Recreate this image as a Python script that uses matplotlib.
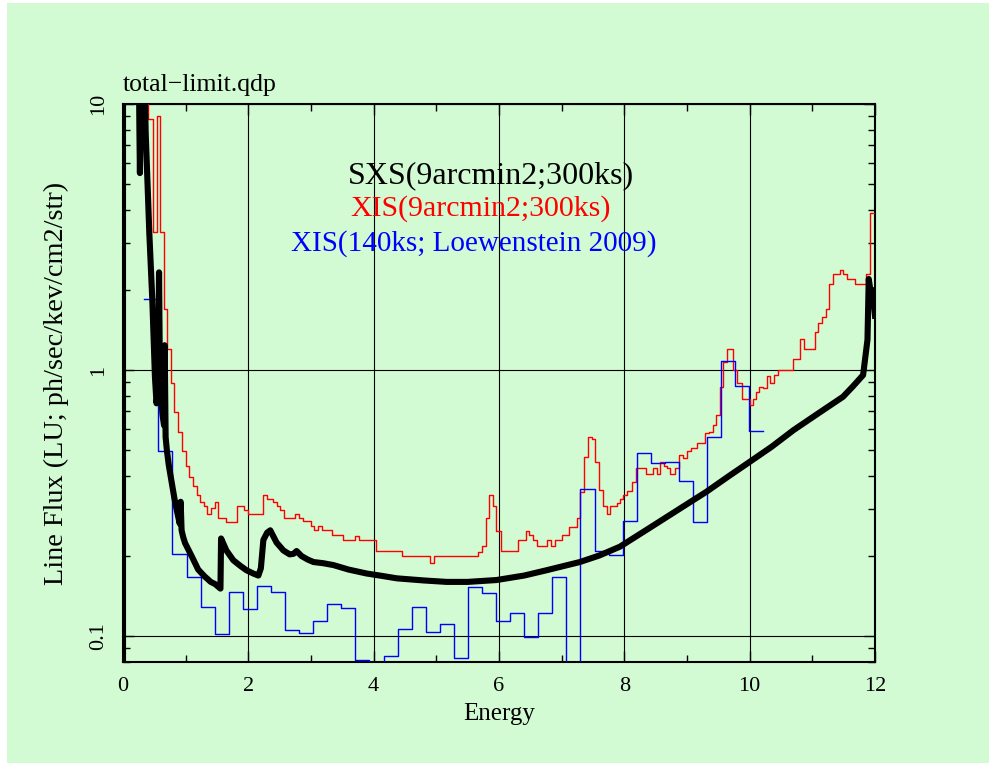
import numpy as np
import matplotlib
matplotlib.use("Agg")
import matplotlib.pyplot as plt
from matplotlib.patches import Rectangle
from matplotlib.ticker import FixedLocator, NullFormatter, LogLocator

plt.rcParams['font.family'] = ['Liberation Serif', 'DejaVu Serif']

# === Data ===
# SXS sensitivity curve (9 arcmin2, 300 ks)
sxs_energy = [0.0, 0.0, 0.24, 0.262, 0.27, 0.278, 0.30, 0.345, 0.362, 0.42, 0.468,
              0.51, 0.535, 0.56, 0.575, 0.59, 0.63, 0.655, 0.665, 0.68, 0.70,
              0.73, 0.78, 0.82, 0.857, 0.905, 0.92, 0.935, 0.96, 0.99, 1.1,
              1.2, 1.3, 1.4, 1.47, 1.555, 1.565, 1.65, 1.76, 1.87, 1.97,
              2.08, 2.16, 2.2, 2.24, 2.3, 2.35, 2.45, 2.56, 2.66, 2.72,
              2.77, 2.85, 2.95, 3.04, 3.2, 3.36, 3.6, 3.89, 4.1, 4.37,
              4.8, 5.165, 5.5, 5.96, 6.4, 6.76, 7.29, 7.6, 7.93, 8.4,
              8.89, 9.31, 9.65, 10.0, 10.35, 10.70, 11.1, 11.49, 11.65, 11.81,
              11.88, 11.90, 11.94, 11.96, 12.0]
sxs_flux = [0.01, 100, 30, 8.0, 5.5, 8.0, 30, 12, 7.8, 3.27, 1.83,
            0.94, 0.75, 0.85, 2.33, 0.9, 0.68, 0.62, 1.24, 0.56, 0.50,
            0.44, 0.375, 0.33, 0.298, 0.265, 0.32, 0.25, 0.236, 0.224, 0.199,
            0.178, 0.168, 0.160, 0.157, 0.151, 0.233, 0.21, 0.193, 0.184, 0.177,
            0.172, 0.169, 0.18, 0.23, 0.245, 0.25, 0.225, 0.21, 0.203, 0.204,
            0.209, 0.200, 0.194, 0.190, 0.188, 0.185, 0.178, 0.172, 0.169, 0.165,
            0.162, 0.160, 0.160, 0.1626, 0.169, 0.177, 0.190, 0.201, 0.217, 0.255,
            0.302, 0.349, 0.397, 0.452, 0.515, 0.595, 0.689, 0.794, 0.87, 0.958,
            1.3, 2.2, 1.9, 2.0, 1.6]

# XIS (9 arcmin2, 300 ks) histogram: bin edges and values
xis_edges = [0.287, 0.404, 0.483, 0.538, 0.590, 0.654, 0.707, 0.766, 0.819, 0.882,
             0.937, 1.005, 1.056, 1.112, 1.176, 1.229, 1.292, 1.345, 1.404, 1.463,
             1.521, 1.644, 1.814, 1.931, 1.999, 2.229, 2.293, 2.389, 2.453, 2.505,
             2.574, 2.745, 2.808, 2.867, 2.995, 3.052, 3.107, 3.171, 3.330, 3.506,
             3.702, 3.770, 4.037, 4.447, 4.899, 4.967, 5.669, 5.724, 5.792, 5.845,
             5.899, 5.952, 6.027, 6.308, 6.426, 6.483, 6.547, 6.601, 6.770, 6.825,
             6.893, 7.010, 7.121, 7.240, 7.292, 7.356, 7.425, 7.479, 7.531, 7.600,
             7.654, 7.718, 7.771, 7.878, 7.930, 7.983, 8.047, 8.117, 8.194, 8.345,
             8.462, 8.516, 8.569, 8.632, 8.685, 8.728, 8.808, 8.877, 8.940, 8.995,
             9.059, 9.164, 9.287, 9.355, 9.410, 9.462, 9.526, 9.579, 9.633, 9.738,
             9.793, 9.872, 10.005, 10.048, 10.101, 10.153, 10.217, 10.271, 10.324, 10.388,
             10.456, 10.686, 10.803, 10.866, 11.042, 11.095, 11.158, 11.213, 11.270, 11.334,
             11.441, 11.494, 11.557, 11.680, 11.856, 11.920, 11.983]
xis_flux = [20, 8.78, 3.30, 9.01, 3.30, 1.70, 1.20, 0.894, 0.695, 0.585,
            0.496, 0.438, 0.398, 0.366, 0.339, 0.320, 0.308, 0.289, 0.302, 0.320,
            0.279, 0.269, 0.308, 0.298, 0.289, 0.339, 0.329, 0.320, 0.308, 0.299,
            0.279, 0.289, 0.279, 0.271, 0.259, 0.250, 0.259, 0.250, 0.240, 0.230,
            0.238, 0.230, 0.209, 0.200, 0.189, 0.200, 0.2075, 0.2185, 0.279, 0.339,
            0.308, 0.249, 0.209, 0.230, 0.249, 0.240, 0.230, 0.2185, 0.230, 0.2185,
            0.230, 0.240, 0.258, 0.279, 0.349, 0.470, 0.559, 0.549, 0.452, 0.354,
            0.308, 0.289, 0.308, 0.317, 0.327, 0.339, 0.352, 0.380, 0.427, 0.406,
            0.427, 0.406, 0.452, 0.437, 0.427, 0.406, 0.427, 0.479, 0.468, 0.497,
            0.508, 0.530, 0.578, 0.586, 0.621, 0.677, 0.865, 1.075, 1.196, 1.0,
            0.891, 0.776, 0.739, 0.776, 0.829, 0.865, 0.853, 0.949, 0.896, 0.958,
            1.0, 1.097, 1.304, 1.196, 1.393, 1.498, 1.586, 1.691, 2.100, 2.296,
            2.376, 2.296, 2.193, 2.100, 2.296, 3.882]

# XIS 140 ks (Loewenstein 2009) histogram
lw09_edges = [0.340, 0.565, 0.789, 1.014, 1.238, 1.463, 1.687, 1.912, 2.136, 2.361,
              2.585, 2.810, 3.034, 3.259, 3.483, 3.708, 3.932, 4.157, 4.381, 4.606,
              4.830, 5.055, 5.279, 5.504, 5.728, 5.953, 6.177, 6.402, 6.626, 6.851,
              7.075, 7.300, 7.524, 7.749, 7.973, 8.198, 8.422, 8.647, 8.871, 9.096,
              9.320, 9.545, 9.769, 9.994, 10.218]
lw09_flux = [1.845, 0.497, 0.204, 0.167, 0.129, 0.1015, 0.1467, 0.1263, 0.154, 0.146,
             0.1053, 0.1029, 0.1141, 0.1327, 0.1282, 0.0817, 0.05, 0.0841, 0.1069, 0.129,
             0.1038, 0.1116, 0.0825, 0.1532, 0.1454, 0.1141, 0.1224, 0.0989, 0.1224, 0.167,
             0.05, 0.356, 0.2093, 0.2016, 0.2713, 0.486, 0.446, 0.452, 0.3826, 0.269,
             0.561, 1.081, 0.870, 0.590]

labels = ["SXS(9arcmin2;300ks)", "XIS(9arcmin2;300ks)", "XIS(140ks; Loewenstein 2009)"]
label_colors = ["black", "#ff0000", "#0000ff"]
label_x = [5.87, 5.71, 5.60]
label_y = [5.36, 4.06, 3.0]
label_size = [23, 21.5, 21]

# === Plotting ===
W, H = 989, 763
fig = plt.figure(figsize=(W / 100, H / 100), dpi=100)
fig.patch.set_facecolor('white')
bg = '#d3fbd3'
fig.add_artist(Rectangle((7 / W, 0), 1 - 7 / W, 1 - 3 / H, transform=fig.transFigure,
                         facecolor=bg, edgecolor='none', zorder=-10))

ax = fig.add_axes([123 / W, 1 - 662 / H, 752 / W, 558 / H])
ax.set_facecolor(bg)

ax.plot(xis_edges, np.append(xis_flux, xis_flux[-1]),
        drawstyle='steps-post', color='#ff0000', lw=1.0, zorder=3)
ax.plot(lw09_edges, np.append(lw09_flux, lw09_flux[-1]),
        drawstyle='steps-post', color='#0000ff', lw=1.0, zorder=3)
ax.plot(sxs_energy, sxs_flux, color='black', lw=4.4, solid_joinstyle='round', zorder=4)

ax.set_yscale('log')
ax.set_xlim(0, 12)
ax.set_ylim(0.08, 10)

ax.xaxis.set_major_locator(FixedLocator([0, 2, 4, 6, 8, 10, 12]))
ax.xaxis.set_minor_locator(FixedLocator([1, 3, 5, 7, 9, 11]))
ax.yaxis.set_major_locator(FixedLocator([0.1, 1, 10]))
ax.yaxis.set_minor_locator(LogLocator(base=10, subs=np.arange(2, 10)))
ax.yaxis.set_minor_formatter(NullFormatter())
ax.set_yticklabels(['0.1', '1', '10'], rotation=90, va='center')

ax.tick_params(which='both', direction='in', top=True, right=True, colors='black',
               labelsize=16, pad=11)
ax.tick_params(which='major', length=8, width=1.0)
ax.tick_params(which='minor', length=5, width=1.0)

ax.grid(True, which='major', color='black', lw=0.8)
ax.set_axisbelow(True)
for s in ax.spines.values():
    s.set_linewidth(1.5)

ax.set_xlabel("Energy", fontsize=18, va='center')
ax.xaxis.set_label_coords(0.5, -(714 - 662) / 558)
ax.set_ylabel("Line Flux (LU; ph/sec/kev/cm2/str)", fontsize=20.3, va='center')
ax.yaxis.set_label_coords(-(123 - 56) / 752, 0.5)

fig.text(123 / W, 1 - 85 / H, "total\u2212limit.qdp", fontsize=18.5, ha='left', va='center')

for txt, c, xv, yv, fs in zip(labels, label_colors, label_x, label_y, label_size):
    ax.text(xv, yv, txt, color=c, fontsize=fs, ha='center', va='center', zorder=5)

fig.savefig('out.png', dpi=100, facecolor=fig.get_facecolor())
